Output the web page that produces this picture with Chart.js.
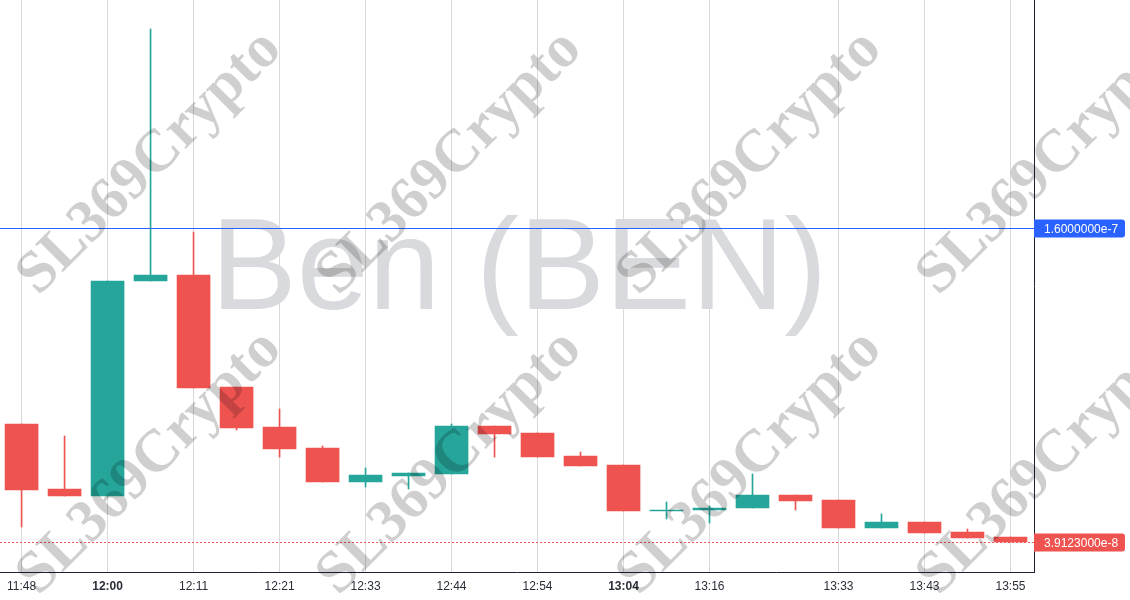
<!DOCTYPE html>
<html>
<head>
<meta charset="utf-8">
<script src="https://cdn.jsdelivr.net/npm/chart.js@4/dist/chart.umd.min.js"></script>
<style>
  html, body { margin: 0; padding: 0; background: #fff; }
  #wrap { width: 1130px; height: 600px; position: relative; }
</style>
</head>
<body>
<div id="wrap"><canvas id="chart"></canvas></div>
<script>
// time labels under the candles ('' = no label)
const tickLabels = ['11:48', '', '12:00', '', '12:11', '', '12:21', '', '12:33', '', '12:44', '',
  '12:54', '', '13:04', '', '13:16', '', '', '13:33', '', '13:43', '', '13:55'];
const boldLabels = ['12:00', '13:04'];

// OHLC
const opens  = [8.455e-8, 5.953e-8, 5.683e-8, 13.960e-8, 14.191e-8, 9.879e-8, 8.339e-8, 7.531e-8, 6.222e-8, 6.453e-8, 6.530e-8, 8.378e-8,
  8.108e-8, 7.223e-8, 6.876e-8, 5.106e-8, 5.144e-8, 5.221e-8, 5.722e-8, 5.529e-8, 4.451e-8, 4.682e-8, 4.297e-8, 4.105e-8];
const highs  = [8.455e-8, 7.993e-8, 13.960e-8, 23.661e-8, 15.846e-8, 9.879e-8, 9.032e-8, 7.608e-8, 6.761e-8, 6.568e-8, 8.455e-8, 8.378e-8,
  8.108e-8, 7.377e-8, 6.876e-8, 5.452e-8, 5.298e-8, 6.530e-8, 5.722e-8, 5.529e-8, 4.990e-8, 4.682e-8, 4.413e-8, 4.105e-8];
const lows   = [4.490e-8, 5.683e-8, 5.683e-8, 13.960e-8, 9.841e-8, 8.224e-8, 7.184e-8, 6.222e-8, 6.030e-8, 5.953e-8, 6.530e-8, 7.184e-8,
  7.184e-8, 6.838e-8, 5.106e-8, 4.798e-8, 4.644e-8, 5.221e-8, 5.144e-8, 4.451e-8, 4.451e-8, 4.259e-8, 4.066e-8, 3.9123e-8];
const closes = [5.914e-8, 5.683e-8, 13.960e-8, 14.191e-8, 9.841e-8, 8.301e-8, 7.492e-8, 6.222e-8, 6.491e-8, 6.568e-8, 8.378e-8, 8.070e-8,
  7.184e-8, 6.838e-8, 5.106e-8, 5.144e-8, 5.221e-8, 5.722e-8, 5.491e-8, 4.451e-8, 4.682e-8, 4.259e-8, 4.066e-8, 3.9123e-8];

const alertPrice = 1.6e-7;
const lastPrice = closes[closes.length - 1];

const UP = '#26a69a', DOWN = '#ef5350';
const colors = opens.map((o, i) => closes[i] >= o ? UP : DOWN);

const wicks = lows.map((l, i) => ({ x: i, y: [l, highs[i]] }));
const bodies = opens.map((o, i) => ({ x: i, y: [o, closes[i]] }));

const textFont = '"Liberation Sans", Arial, sans-serif';

// big symbol text behind the candles
const symbolPlugin = {
  id: 'symbol',
  beforeDatasetsDraw(chart) {
    const { ctx, chartArea } = chart;
    ctx.save();
    ctx.font = '129px ' + textFont;
    ctx.fillStyle = '#d9dadd';
    ctx.textAlign = 'center';
    ctx.textBaseline = 'alphabetic';
    ctx.fillText('Ben (BEN)', 519, 309);
    ctx.restore();
  }
};

// price lines, watermark and price tags
const overlayPlugin = {
  id: 'overlay',
  afterDatasetsDraw(chart) {
    const { ctx, chartArea } = chart;
    const y = chart.scales.y;
    ctx.save();
    ctx.beginPath();
    ctx.rect(chartArea.left, chartArea.top, chartArea.right - chartArea.left, chartArea.bottom - chartArea.top);
    ctx.clip();

    const ya = Math.round(y.getPixelForValue(alertPrice)) + 0.5;
    ctx.strokeStyle = '#2962ff';
    ctx.lineWidth = 1;
    ctx.beginPath(); ctx.moveTo(chartArea.left, ya); ctx.lineTo(chartArea.right, ya); ctx.stroke();

    const yl = Math.round(y.getPixelForValue(lastPrice)) + 0.5;
    ctx.strokeStyle = DOWN;
    ctx.setLineDash([2, 2]);
    ctx.beginPath(); ctx.moveTo(chartArea.left, yl); ctx.lineTo(chartArea.right, yl); ctx.stroke();
    ctx.setLineDash([]);
    ctx.restore();

    // watermark tiles
    ctx.save();
    ctx.font = 'bold 60px "Liberation Serif", "DejaVu Serif", serif';
    ctx.fillStyle = 'rgba(0,0,0,0.19)';
    ctx.textAlign = 'center';
    ctx.textBaseline = 'middle';
    for (let cx = 150; cx < 1300; cx += 300) {
      for (let cy = 163; cy < 800; cy += 300) {
        ctx.save();
        ctx.translate(cx, cy);
        ctx.rotate(-Math.PI / 4);
        ctx.fillText('SL369Crypto', 0, 0);
        ctx.restore();
      }
    }
    ctx.restore();
  },
  afterDraw(chart) {
    const { ctx, chartArea } = chart;
    const y = chart.scales.y;
    const tags = [[alertPrice, '#2962ff'], [lastPrice, DOWN]];
    ctx.save();
    ctx.font = '12px ' + textFont;
    ctx.textBaseline = 'middle';
    ctx.textAlign = 'left';
    tags.forEach(([v, c]) => {
      const py = Math.round(y.getPixelForValue(v)) + 0.5;
      ctx.fillStyle = c;
      ctx.beginPath();
      ctx.roundRect(chartArea.right, py - 9, 91, 18, [0, 3, 3, 0]);
      ctx.fill();
      ctx.fillStyle = '#ffffff';
      ctx.fillText(v.toExponential(7), chartArea.right + 10, py + 1);
    });
    ctx.restore();
  }
};

new Chart(document.getElementById('chart'), {
  type: 'bar',
  data: {
    datasets: [
      {
        data: wicks,
        backgroundColor: colors,
        barThickness: 1,
        grouped: false,
        borderWidth: 0
      },
      {
        data: bodies,
        backgroundColor: colors,
        barThickness: 33,
        grouped: false,
        borderWidth: 0,
        minBarLength: 1
      }
    ]
  },
  plugins: [symbolPlugin, overlayPlugin],
  options: {
    responsive: true,
    maintainAspectRatio: false,
    animation: false,
    layout: { padding: 0 },
    plugins: {
      legend: { display: false },
      tooltip: { enabled: false }
    },
    scales: {
      x: {
        type: 'linear',
        offset: false,
        min: -0.5,
        max: 23.547,
        afterBuildTicks: scale => {
          scale.ticks = tickLabels.map((t, i) => ({ value: i })).filter(t => tickLabels[t.value]);
        },
        afterFit: scale => { scale.height = 28; },
        grid: { color: '#d9d9d9', drawTicks: false, offset: false },
        border: { display: true, color: '#1e2133', width: 1 },
        ticks: {
          autoSkip: false,
          maxRotation: 0,
          padding: 7,
          color: '#2a2e39',
          callback: v => tickLabels[v] || '',
          font: ctx => ({
            family: textFont,
            size: 12,
            weight: boldLabels.includes(tickLabels[ctx.tick ? ctx.tick.value : 0]) ? 'bold' : 'normal'
          })
        }
      },
      y: {
        position: 'right',
        min: 2.7574e-8,
        max: 2.47771e-7,
        afterFit: scale => { scale.width = 96; },
        grid: { display: false },
        border: { display: true, color: '#1e2133', width: 1 },
        ticks: { display: false }
      }
    }
  }
});
</script>
</body>
</html>
